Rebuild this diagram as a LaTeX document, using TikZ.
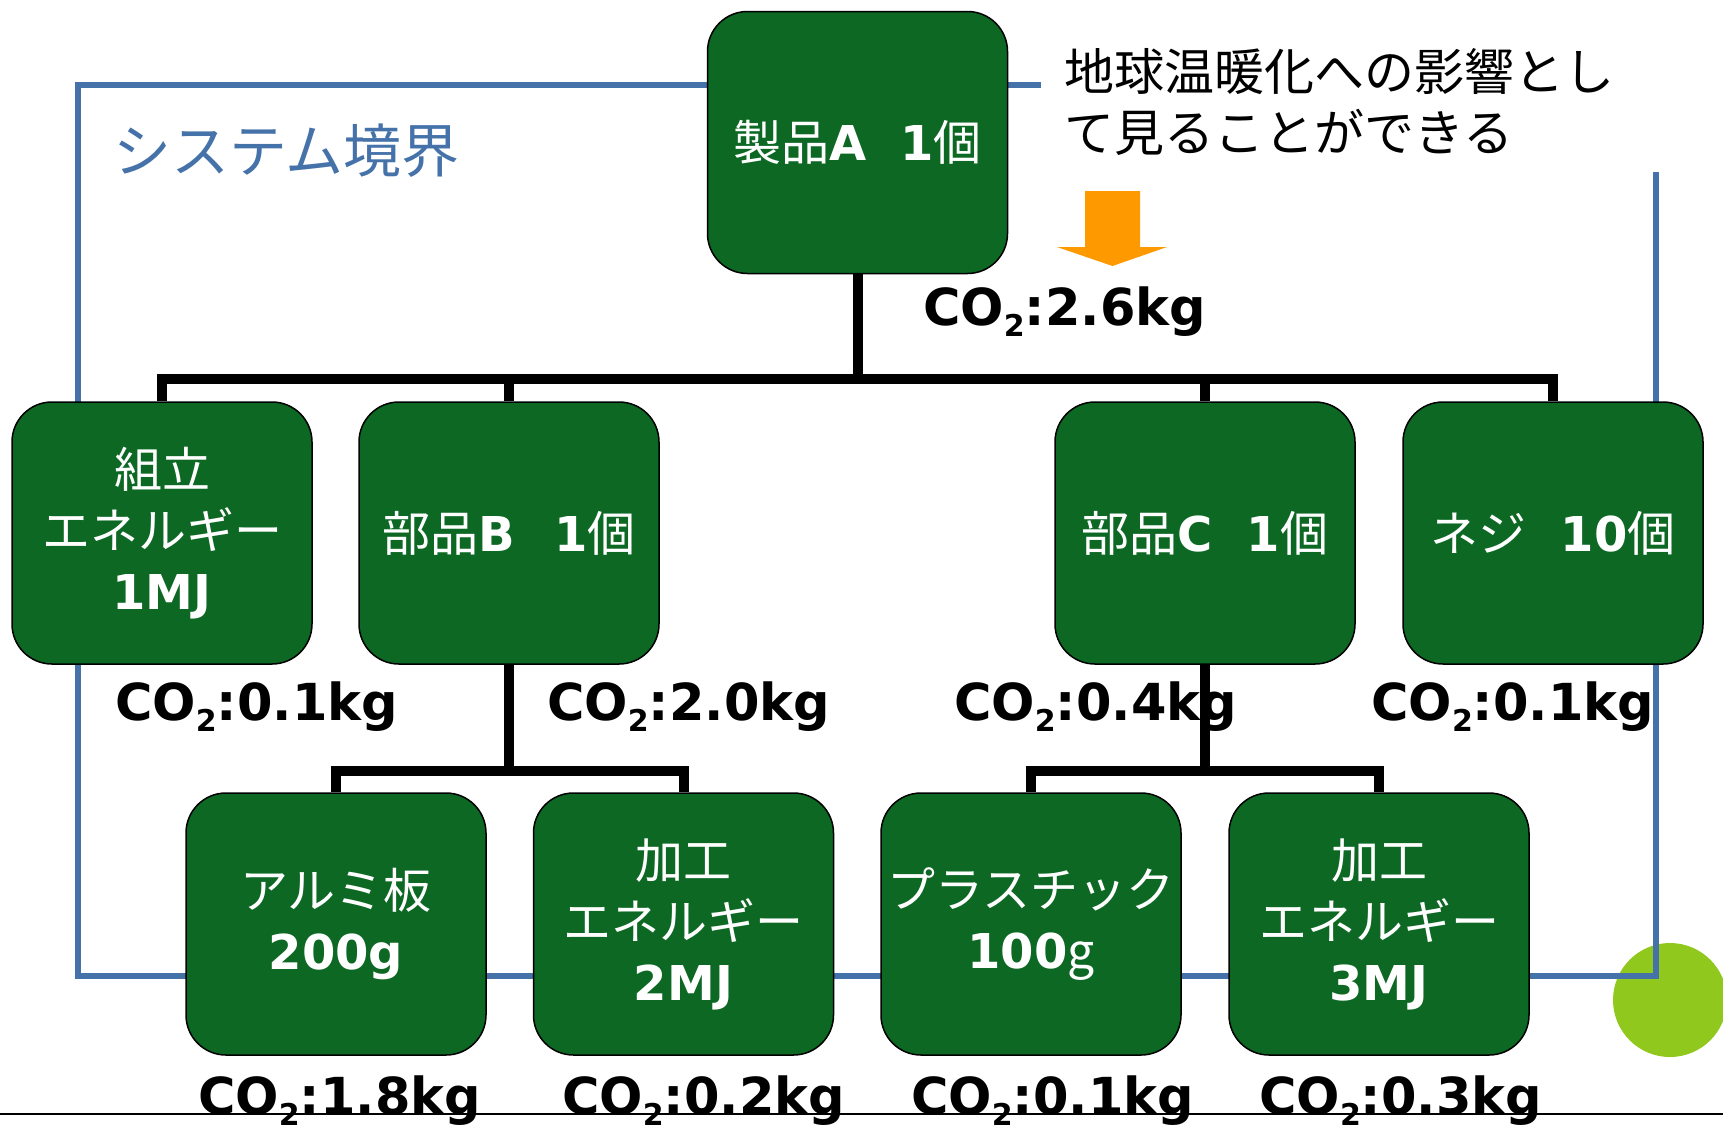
\documentclass[tikz,border=0pt]{standalone}
\usepackage{fontspec}
\setmainfont{DejaVu Sans}
\newfontfamily\jp{Noto Sans CJK JP}
\newfontfamily\bl{DejaVu Sans}
\definecolor{boxgreen}{RGB}{13,104,36}
\definecolor{sysblue}{RGB}{70,114,170}
\definecolor{arroworange}{RGB}{255,153,0}
\definecolor{limegreen}{RGB}{145,200,30}
\newcommand{\cotwo}{CO\raisebox{-11pt}{\fontsize{30}{30}\selectfont 2}}
\tikzset{
  box/.style={draw=black, line width=1.5pt, fill=boxgreen, rounded corners=40pt,
    minimum width=300pt, minimum height=262pt, text=white, align=center, inner sep=0pt,
    font=\jp\fontsize{48}{61}\selectfont},
  conn/.style={line width=10pt, draw=black},
  colabel/.style={anchor=base west, inner sep=0pt, font=\bl\bfseries\fontsize{51}{51}\selectfont},
  notetext/.style={anchor=base west, inner sep=0pt, font=\jp\fontsize{50}{50}\selectfont},
}
\begin{document}
\begin{tikzpicture}[x=1pt,y=-1pt]
\useasboundingbox (0,0) rectangle (1723,1133);
% green circle and bottom line
\fill[limegreen] (1670,1000) circle[radius=57pt];
\draw[line width=2pt] (0,1114) -- (1723,1114);
% system boundary
\draw[sysblue, line width=6pt, line join=miter] (1041,85) -- (78,85) -- (78,976) -- (1656,976) -- (1656,172);
\node[anchor=base west, inner sep=0pt, text=sysblue, font=\jp\fontsize{58}{58}\selectfont] (sys) at (113,172) {システム境界};
% note
\node[notetext] (note1) at (1064,90) {地球温暖化への影響とし};
\node[notetext] (note2) at (1064,151) {て見ることができる};
\fill[arroworange] (1085,191) -- (1140,191) -- (1140,247) -- (1167,247) -- (1112.5,266) -- (1057,247) -- (1085,247) -- cycle;
% boxes
\node[box] (pA) at (857.5,142.5) {製品{\bl\bfseries A}\hspace{34pt}{\bl\bfseries 1}個};
\node[box] (asm) at (162,533) {組立\\エネルギー\\{\bl\bfseries 1MJ}};
\node[box] (pB) at (509,533) {部品{\bl\bfseries B}\hspace{40pt}{\bl\bfseries 1}個};
\node[box] (pC) at (1205,533) {部品{\bl\bfseries C}\hspace{34pt}{\bl\bfseries 1}個};
\node[box] (screw) at (1553,533) {ネジ\hspace{34pt}{\bl\bfseries 10}個};
\node[box] (alu) at (336,924) {アルミ板\\{\bl\bfseries 200g}};
\node[box] (procB) at (683.5,924) {加工\\エネルギー\\{\bl\bfseries 2MJ}};
\node[box] (plastic) at (1031,924) {プラスチック\\{\bl\bfseries 100}g};
\node[box] (procC) at (1379,924) {加工\\エネルギー\\{\bl\bfseries 3MJ}};
% connectors
\coordinate (busA) at (857.5,379);
\draw[conn] (pA.south) -- (busA);
\draw[conn] (asm.north) -- (asm.north |- busA) -- (screw.north |- busA) -- (screw.north);
\draw[conn] (pB.north) -- (pB.north |- busA);
\draw[conn] (pC.north) -- (pC.north |- busA);
\coordinate (busB) at (509,771);
\draw[conn] (pB.south) -- (busB);
\draw[conn] (alu.north) -- (alu.north |- busB) -- (procB.north |- busB) -- (procB.north);
\coordinate (busC) at (1205,771);
\draw[conn] (pC.south) -- (busC);
\draw[conn] (plastic.north) -- (plastic.north |- busC) -- (procC.north |- busC) -- (procC.north);
% CO2 labels
\node[colabel] (coA) at (923,325) {\cotwo:2.6kg};
\node[colabel] (coAsm) at (115,720) {\cotwo:0.1kg};
\node[colabel] (coB) at (547,720) {\cotwo:2.0kg};
\node[colabel] (coC) at (954,720) {\cotwo:0.4kg};
\node[colabel] (coScrew) at (1371,720) {\cotwo:0.1kg};
\node[colabel] (coAlu) at (198,1114) {\cotwo:1.8kg};
\node[colabel] (coProcB) at (562,1114) {\cotwo:0.2kg};
\node[colabel] (coPlastic) at (911,1114) {\cotwo:0.1kg};
\node[colabel] (coProcC) at (1259,1114) {\cotwo:0.3kg};
\end{tikzpicture}
\end{document}
